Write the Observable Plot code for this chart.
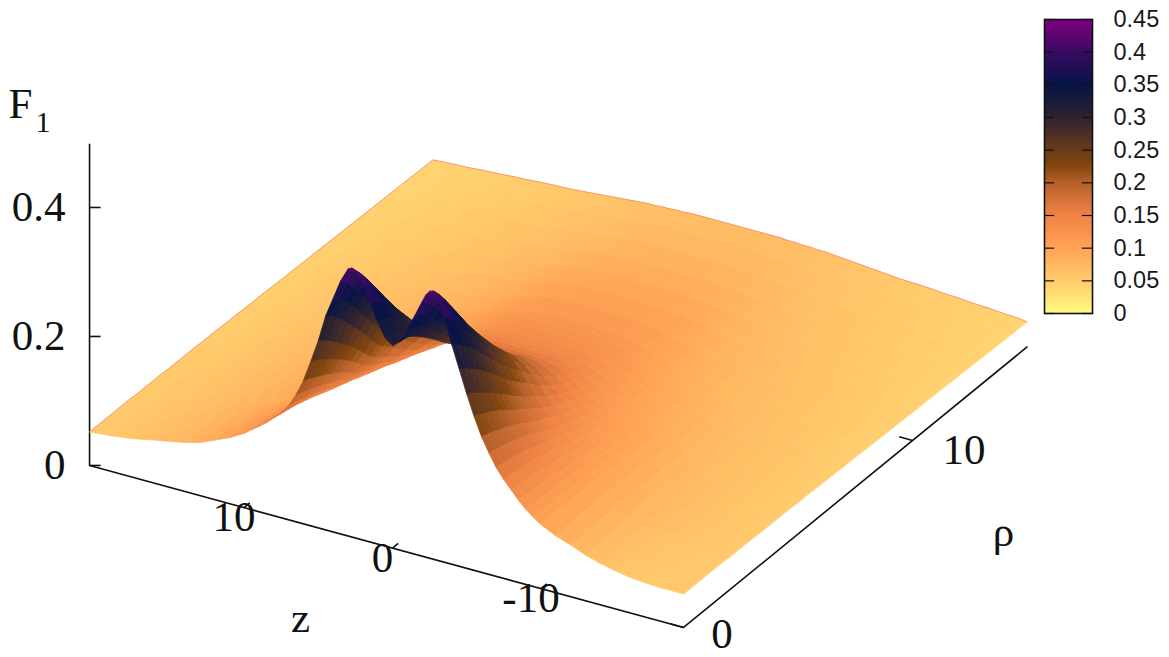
<!DOCTYPE html>
<html>
<head>
<meta charset="utf-8">
<script src="https://cdn.jsdelivr.net/npm/d3@7"></script>
<script src="https://cdn.jsdelivr.net/npm/@observablehq/plot@0.6"></script>
<style>
html,body{margin:0;padding:0;background:#fff}
#wrap{position:relative;width:1169px;height:657px;overflow:hidden}
#wrap svg{position:absolute;top:0;left:0;background:transparent}
</style>
</head>
<body>
<div id="wrap"></div>
<script>
// |z| columns of the surface
const zAbs = [0,.5,1,1.5,2,2.25,2.5,2.75,3,3.5,4,4.5,5,5.5,6,6.5,7,7.5,8,8.5,9,9.5,10,11,12,13,14,15,16,17,18,19,20];
const zAxisMin = -19.6, zAxisMax = 20.4;
const rhoGrid = [0,.25,.5,.75,1,1.25,1.5,1.75,2,2.25,2.5,2.75,3,3.5,4,4.5,5,5.5,6,6.5,7,7.5,8,9,10,11,12,13,14,15];
// F1, one row per rho value (z < 0 side, and z > 0 above rho = 2)
const r000 = [.314,.323,.345,.37,.395,.407,.414,.416,.408,.38,.34,.305,.27,.238,.21,.188,.168,.153,.14,.127,.116,.107,.099,.088,.08,.071,.064,.059,.055,.053,.052,.052,.052];
const r025 = [.314,.322,.342,.365,.387,.397,.402,.403,.396,.37,.333,.299,.264,.234,.207,.186,.167,.152,.139,.127,.116,.107,.099,.088,.08,.071,.065,.06,.056,.054,.052,.052,.052];
const r050 = [.312,.319,.336,.356,.375,.383,.387,.388,.381,.357,.324,.291,.257,.229,.203,.183,.166,.151,.138,.126,.116,.107,.099,.089,.08,.072,.065,.06,.056,.054,.053,.052,.052];
const r075 = [.307,.313,.328,.345,.36,.367,.37,.371,.365,.344,.314,.283,.25,.224,.199,.18,.164,.15,.137,.126,.116,.107,.1,.089,.081,.073,.066,.061,.057,.055,.053,.052,.052];
const r100 = [.30,.305,.318,.332,.344,.35,.353,.354,.349,.33,.303,.274,.242,.218,.195,.177,.161,.148,.136,.125,.115,.107,.1,.09,.081,.073,.067,.062,.058,.056,.054,.053,.052];
const r125 = [.292,.296,.307,.319,.329,.334,.337,.337,.332,.315,.291,.264,.234,.212,.19,.173,.158,.146,.134,.124,.115,.107,.1,.09,.082,.074,.068,.063,.059,.056,.054,.053,.052];
const r150 = [.283,.286,.295,.305,.314,.318,.32,.32,.316,.3,.278,.254,.226,.205,.185,.169,.155,.143,.132,.122,.114,.106,.1,.09,.082,.075,.069,.064,.06,.057,.055,.053,.052];
const r175 = [.274,.276,.284,.292,.3,.303,.305,.305,.30,.286,.266,.243,.218,.198,.18,.165,.151,.14,.13,.121,.113,.106,.1,.09,.083,.076,.07,.065,.061,.058,.055,.053,.052];
const r200 = [.264,.266,.272,.279,.286,.289,.29,.29,.285,.272,.254,.232,.209,.191,.174,.16,.147,.137,.128,.12,.112,.105,.099,.09,.083,.076,.07,.066,.062,.059,.056,.054,.051];
const r225 = [.254,.256,.261,.267,.272,.275,.276,.276,.272,.26,.243,.222,.201,.184,.168,.155,.144,.135,.127,.119,.112,.105,.099,.091,.084,.078,.073,.069,.064,.061,.057,.054,.051];
const r250 = [.245,.246,.25,.255,.259,.261,.262,.262,.258,.248,.232,.213,.193,.178,.163,.15,.14,.132,.124,.117,.11,.104,.098,.09,.083,.078,.073,.068,.064,.061,.057,.054,.051];
const r275 = [.236,.237,.24,.244,.247,.249,.25,.249,.246,.236,.222,.204,.186,.171,.158,.146,.137,.129,.122,.115,.108,.103,.097,.09,.083,.077,.072,.068,.064,.06,.057,.054,.051];
const r300 = [.228,.229,.231,.234,.236,.237,.238,.237,.234,.225,.212,.196,.179,.165,.153,.142,.133,.126,.119,.113,.107,.102,.097,.089,.083,.077,.072,.068,.064,.06,.057,.054,.051];
const r350 = [.21,.211,.212,.213,.214,.214,.214,.213,.21,.203,.192,.178,.165,.153,.143,.134,.126,.12,.114,.109,.104,.099,.095,.088,.082,.076,.072,.067,.063,.06,.056,.053,.05];
const r400 = [.194,.194,.195,.195,.195,.195,.194,.193,.19,.184,.175,.164,.153,.143,.134,.127,.12,.115,.11,.105,.101,.097,.093,.086,.081,.075,.071,.067,.063,.059,.056,.053,.05];
const r450 = [.178,.178,.178,.178,.178,.177,.176,.175,.173,.168,.161,.152,.143,.135,.127,.12,.115,.11,.106,.102,.098,.094,.091,.084,.079,.074,.07,.066,.062,.059,.055,.052,.05];
const r500 = [.163,.163,.163,.163,.162,.162,.161,.16,.158,.154,.149,.142,.134,.127,.12,.115,.11,.106,.102,.098,.095,.092,.089,.083,.078,.073,.069,.065,.062,.058,.055,.052,.049];
const r550 = [.151,.151,.151,.15,.15,.15,.149,.148,.147,.143,.139,.133,.127,.121,.115,.11,.106,.102,.099,.095,.092,.089,.086,.081,.076,.072,.068,.064,.061,.058,.054,.051,.049];
const r600 = [.141,.141,.141,.14,.14,.14,.139,.139,.137,.134,.131,.126,.121,.116,.111,.106,.102,.099,.096,.092,.089,.087,.084,.079,.075,.071,.067,.064,.06,.057,.054,.051,.048];
const r650 = [.134,.134,.133,.133,.133,.133,.132,.131,.13,.127,.124,.12,.116,.112,.107,.103,.099,.096,.093,.09,.087,.084,.082,.077,.073,.07,.066,.063,.06,.057,.053,.05,.048];
const r700 = [.128,.128,.128,.127,.127,.127,.126,.126,.124,.122,.119,.116,.112,.108,.104,.1,.096,.093,.09,.087,.085,.082,.08,.076,.072,.068,.065,.062,.059,.056,.053,.05,.047];
const r750 = [.123,.123,.123,.122,.122,.122,.121,.121,.12,.117,.115,.112,.108,.104,.1,.097,.093,.09,.088,.085,.082,.08,.078,.074,.07,.067,.064,.061,.058,.055,.052,.049,.047];
const r800 = [.118,.118,.118,.117,.117,.117,.116,.116,.115,.113,.11,.108,.104,.101,.097,.094,.091,.088,.085,.083,.08,.078,.076,.072,.069,.066,.063,.06,.057,.055,.052,.049,.046];
const r900 = [.108,.108,.108,.107,.107,.107,.107,.106,.106,.104,.102,.1,.097,.094,.091,.088,.085,.083,.08,.078,.076,.074,.072,.069,.066,.063,.06,.058,.056,.053,.05,.048,.045];
const r1000 = [.099,.099,.099,.099,.098,.098,.098,.098,.097,.096,.095,.093,.091,.088,.086,.083,.081,.079,.077,.075,.073,.071,.069,.066,.063,.061,.058,.056,.054,.052,.049,.047,.044];
const r1100 = [.091,.091,.091,.091,.09,.09,.09,.09,.089,.088,.087,.086,.084,.082,.08,.078,.076,.074,.072,.07,.069,.067,.066,.063,.06,.058,.056,.054,.052,.05,.048,.045,.043];
const r1200 = [.084,.084,.084,.083,.083,.083,.083,.083,.082,.081,.08,.079,.078,.076,.075,.073,.072,.07,.069,.067,.066,.064,.063,.06,.058,.056,.054,.052,.05,.049,.047,.044,.042];
const r1300 = [.077,.077,.077,.077,.077,.077,.076,.076,.076,.075,.075,.074,.073,.071,.07,.069,.068,.066,.065,.064,.062,.061,.06,.058,.056,.054,.052,.05,.049,.047,.045,.043,.041];
const r1400 = [.071,.071,.071,.071,.071,.071,.07,.07,.07,.07,.069,.068,.068,.067,.066,.065,.064,.062,.061,.06,.059,.058,.057,.055,.053,.052,.05,.049,.047,.046,.044,.042,.04];
const r1500 = [.065,.065,.065,.065,.065,.065,.065,.065,.065,.064,.064,.063,.063,.062,.062,.061,.06,.059,.058,.057,.056,.055,.054,.052,.051,.05,.048,.047,.045,.044,.042,.041,.039];
const fRows = [r000,r025,r050,r075,r100,r125,r150,r175,r200,r225,r250,r275,r300,r350,r400,r450,r500,r550,r600,r650,r700,r750,r800,r900,r1000,r1100,r1200,r1300,r1400,r1500];
// z > 0 side, rho = 0 to 2: the wall there is read separately, it is wider
const l000 = [.314,.323,.345,.37,.395,.407,.414,.417,.414,.392,.362,.332,.29,.255,.222,.197,.177,.163,.152,.141,.132,.124,.115,.102,.092,.082,.076,.071,.067,.062,.058,.055,.052];
const l025 = [.314,.322,.342,.365,.387,.397,.402,.404,.402,.383,.354,.325,.284,.25,.218,.194,.175,.161,.15,.14,.131,.123,.114,.101,.091,.082,.076,.071,.067,.062,.058,.055,.052];
const l050 = [.312,.319,.336,.356,.375,.383,.387,.389,.387,.37,.343,.315,.276,.244,.213,.19,.172,.159,.148,.138,.129,.122,.113,.1,.09,.082,.076,.071,.066,.062,.058,.055,.052];
const l075 = [.307,.313,.328,.345,.36,.367,.37,.372,.37,.355,.33,.303,.267,.237,.208,.186,.169,.157,.146,.136,.128,.12,.112,.1,.09,.082,.076,.07,.066,.062,.058,.055,.052];
const l100 = [.30,.305,.318,.332,.344,.35,.353,.355,.353,.339,.316,.291,.257,.23,.203,.182,.166,.154,.144,.134,.126,.119,.111,.099,.09,.082,.075,.07,.066,.062,.058,.055,.052];
const l125 = [.292,.296,.307,.319,.329,.334,.337,.338,.336,.323,.302,.278,.247,.222,.197,.178,.162,.151,.141,.132,.124,.117,.109,.098,.089,.081,.075,.07,.066,.061,.058,.055,.052];
const l150 = [.283,.286,.295,.305,.314,.318,.32,.321,.319,.307,.287,.265,.237,.214,.191,.173,.158,.148,.138,.129,.122,.115,.108,.097,.088,.081,.075,.07,.065,.061,.058,.055,.052];
const l175 = [.274,.276,.284,.292,.3,.303,.305,.305,.303,.291,.272,.251,.226,.205,.185,.168,.154,.144,.135,.126,.119,.113,.106,.096,.087,.08,.074,.07,.065,.061,.058,.054,.052];
const l200 = [.264,.266,.272,.279,.286,.289,.29,.29,.287,.276,.258,.236,.213,.195,.177,.162,.149,.14,.131,.123,.116,.109,.103,.094,.086,.079,.074,.069,.065,.061,.057,.054,.051];
const lRows = [l000,l025,l050,l075,l100,l125,l150,l175,l200];

const zTicks = [10,0,-10];
const rhoTicks = [0,10];
const fTicks = [0,0.2,0.4];
const fTickLabels = ["0","0.2","0.4"];
const fAxisTop = 0.498;
const colorTicks = [0,0.05,0.1,0.15,0.2,0.25,0.3,0.35,0.4,0.45];
const colorTickLabels = ["0","0.05","0.1","0.15","0.2","0.25","0.3","0.35","0.4","0.45"];
const paletteDomain = [0,0.05,0.1,0.15,0.2,0.225,0.25,0.3,0.35,0.4,0.45];
const paletteRange = ["#fff982","#ffcb6c","#ffa254","#ef8244","#b5602a","#83460f","#683a1c","#2c2230","#061446","#3b0a62","#800080"];

const colorOpts = {type:"linear",domain:paletteDomain,range:paletteRange,clamp:true};
const project = (z,rho,f)=>({x:392-14.85*z+22.9*rho, y:547.6-4.05*z-18.7*rho-645*f});

// columns, most negative z first
const cols = [
  ...zAbs.slice(1).reverse().map((v,i)=>({z: i===0?zAxisMin:-v, k: zAbs.length-1-i, left:false})),
  ...zAbs.map((v,i)=>({z: i===zAbs.length-1?zAxisMax:v, k:i, left:true}))
];
const fAt=(ri,col)=> (col.left && ri<lRows.length ? lRows : fRows)[ri][col.k];

const quads=[];
for(let r=0;r<rhoGrid.length-1;r++){
  for(let c=0;c<cols.length-1;c++){
    const corners=[[c,r],[c+1,r],[c+1,r+1],[c,r+1]].map(([ci,ri])=>({
      z:cols[ci].z,rho:rhoGrid[ri],f:fAt(ri,cols[ci])}));
    quads.push({
      depth:d3.mean(corners,p=>4.05*p.z+18.7*p.rho),
      f:d3.mean(corners,p=>p.f),
      corners
    });
  }
}
quads.sort((a,b)=>b.depth-a.depth);
const surface=quads.flatMap((q,id)=>q.corners.map(p=>({id,f:q.f,...project(p.z,p.rho,p.f)})));

const lastCol=cols[cols.length-1];
const backEdge=[
  ...rhoGrid.map((rho,i)=>project(zAxisMax,rho,fAt(i,lastCol))),
  ...cols.slice().reverse().map(c=>project(c.z,15,r1500[c.k]))
];

const axes=[project(zAxisMax,0,fAxisTop),project(zAxisMax,0,0),project(zAxisMin,0,0),project(zAxisMin,15,0)];

const serif="'Liberation Serif',serif";
const black="#111";
const main=Plot.plot({
  width:1169,height:657,margin:0,
  x:{domain:[0,1169],range:[0,1169],axis:null},
  y:{domain:[0,657],range:[0,657],axis:null},
  color:colorOpts,
  marks:[
    Plot.line(axes,{x:"x",y:"y",stroke:black,strokeWidth:1.6}),
    Plot.link(fTicks,{x1:()=>project(zAxisMax,0,0).x,x2:()=>project(zAxisMax,0,0).x+11,
      y1:d=>project(zAxisMax,0,d).y,y2:d=>project(zAxisMax,0,d).y,stroke:black,strokeWidth:1.6}),
    Plot.link(zTicks,{x1:d=>project(d,0,0).x,y1:d=>project(d,0,0).y,x2:d=>project(d,0.25,0).x,y2:d=>project(d,0.25,0).y,stroke:black,strokeWidth:1.6}),
    Plot.link(rhoTicks,{x1:d=>project(zAxisMin,d,0).x,y1:d=>project(zAxisMin,d,0).y,x2:d=>project(zAxisMin+0.9,d,0).x,y2:d=>project(zAxisMin+0.9,d,0).y,stroke:black,strokeWidth:1.6}),
    Plot.line(surface,{x:"x",y:"y",z:"id",fill:"f",stroke:"f",strokeWidth:0.7,curve:"linear-closed"}),
    Plot.line(backEdge,{x:"x",y:"y",stroke:"#f58a6c",strokeWidth:0.8}),
    Plot.text(fTicks,{x:()=>65,y:d=>project(zAxisMax,0,d).y,text:(d,i)=>fTickLabels[i],textAnchor:"end",fontFamily:serif,fontSize:43,fill:black}),
    Plot.text(zTicks,{x:d=>project(d,0,0).x,y:d=>project(d,0,0).y,dx:-10,dy:10,text:d=>String(d),fontFamily:serif,fontSize:43,fill:black}),
    Plot.text([0],{x:d=>project(zAxisMin-3,d,0).x,y:d=>project(zAxisMin-3,d,0).y,dx:-6,dy:-5,text:d=>String(d),fontFamily:serif,fontSize:43,fill:black}),
    Plot.text([10],{x:d=>project(zAxisMin-3,d,0).x,y:d=>project(zAxisMin-3,d,0).y,dx:7,dy:-2,text:d=>String(d),fontFamily:serif,fontSize:43,fill:black}),
    Plot.text(["z"],{x:()=>300,y:()=>618,text:d=>d,fontFamily:serif,fontSize:43,fill:black}),
    Plot.text(["ρ"],{x:()=>1003,y:()=>532,text:d=>d,fontFamily:serif,fontSize:43,fill:black}),
    Plot.text(["F"],{x:()=>8,y:()=>104,text:d=>d,textAnchor:"start",fontFamily:serif,fontSize:43,fill:black}),
    Plot.text(["1"],{x:()=>35,y:()=>122,text:d=>d,textAnchor:"start",fontFamily:serif,fontSize:30,fill:black})
  ]
});

const barLevels=d3.range(0,0.45,0.0015);
const sans="'Liberation Sans',sans-serif";
const bar=Plot.plot({
  width:169,height:330,marginTop:19,marginBottom:17,marginLeft:44,marginRight:77,
  x:{domain:[0,1],axis:null},
  y:{domain:[0,0.45],axis:null},
  color:colorOpts,
  marks:[
    Plot.rect(barLevels,{x1:()=>0,x2:()=>1,y1:d=>d,y2:d=>Math.min(0.45,d+0.004),fill:d=>d,shapeRendering:"crispEdges"}),
    Plot.ruleY(colorTicks,{x1:()=>0,x2:()=>0.21,stroke:black,strokeWidth:1.2}),
    Plot.ruleY(colorTicks,{x1:()=>0.79,x2:()=>1,stroke:black,strokeWidth:1.2}),
    Plot.frame({stroke:black,strokeWidth:1.6}),
    Plot.text(colorTicks,{x:()=>1,y:d=>d,dx:21,text:(d,i)=>colorTickLabels[i],textAnchor:"start",fontFamily:sans,fontSize:23.5,fill:"#1a1a1a"})
  ]
});
bar.style.left="1000px";
const wrap=document.getElementById("wrap");
wrap.append(main,bar);
</script>
</body>
</html>
